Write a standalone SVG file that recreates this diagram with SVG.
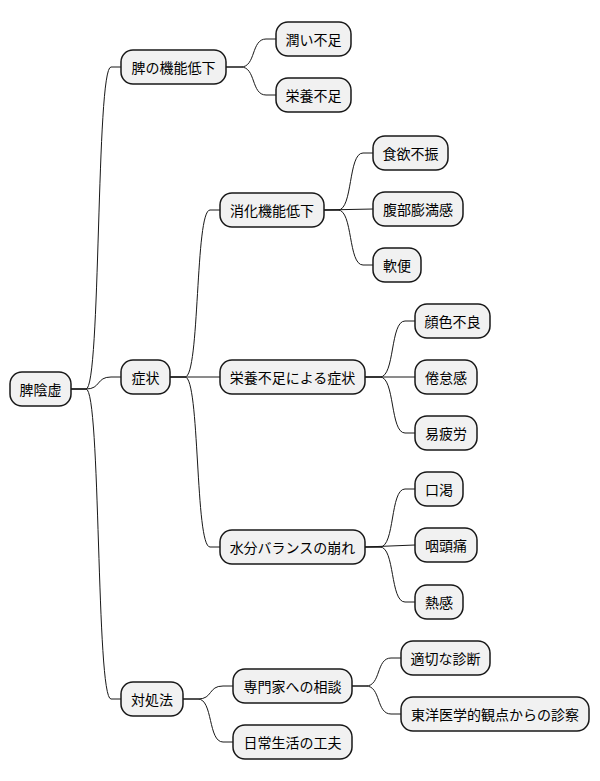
<svg xmlns="http://www.w3.org/2000/svg" width="600" height="781" viewBox="0 0 600 781">
<style>
.n rect{fill:#F1F1F1;stroke:#181818;stroke-width:1.5}
.n text{font-family:"Noto Sans CJK JP","Noto Sans CJK SC",sans-serif;font-size:14px;fill:#000;text-anchor:middle;dominant-baseline:central}
#c path{fill:none;stroke:#181818;stroke-width:1}
</style>
<rect width="600" height="781" fill="#fff"/>
<g id="c">
<path d="M71,389 L86,389 C101,389 96,67 111,67 L121,67"/>
<path d="M71,389 L86,389 C101,389 96,377 111,377 L121,377"/>
<path d="M71,389 L86,389 C101,389 96,699 111,699 L121,699"/>
<path d="M226,67 L241,67 C256,67 251,39 266,39 L276,39"/>
<path d="M226,67 L241,67 C256,67 251,95 266,95 L276,95"/>
<path d="M170,377 L185,377 C200,377 195,210 210,210 L220,210"/>
<path d="M170,377 L220,377"/>
<path d="M170,377 L185,377 C200,377 195,547 210,547 L220,547"/>
<path d="M324,210 L338,210 C353,210 348,153 363,153 L373,153"/>
<path d="M324,210 L373,209"/>
<path d="M324,210 L338,210 C353,210 348,265 363,265 L373,265"/>
<path d="M365,377 L380,377 C395,377 390,321 405,321 L415,321"/>
<path d="M365,377 L415,377"/>
<path d="M365,377 L380,377 C395,377 390,433 405,433 L415,433"/>
<path d="M365,547 L380,547 C395,547 390,489 405,489 L415,489"/>
<path d="M365,547 L415,545"/>
<path d="M365,547 L380,547 C395,547 390,602 405,602 L415,602"/>
<path d="M183,699 L198,699 C213,699 208,686 223,686 L233,686"/>
<path d="M183,699 L198,699 C213,699 208,742 223,742 L233,742"/>
<path d="M352,686 L366,686 C381,686 376,658 391,658 L401,658"/>
<path d="M352,686 L366,686 C381,686 376,714 391,714 L401,714"/>
</g>
<g id="n1" class="n"><rect x="10" y="372" width="61" height="34" rx="12"/><text x="40.5" y="389">脾陰虚</text></g>
<g id="n2" class="n"><rect x="121" y="50" width="105" height="34" rx="12"/><text x="173.5" y="67">脾の機能低下</text></g>
<g id="n3" class="n"><rect x="276" y="22" width="75" height="34" rx="12"/><text x="313.5" y="39">潤い不足</text></g>
<g id="n4" class="n"><rect x="276" y="78" width="75" height="34" rx="12"/><text x="313.5" y="95">栄養不足</text></g>
<g id="n5" class="n"><rect x="121" y="360" width="49" height="34" rx="12"/><text x="145.5" y="377">症状</text></g>
<g id="n6" class="n"><rect x="220" y="193" width="104" height="34" rx="12"/><text x="272" y="210">消化機能低下</text></g>
<g id="n7" class="n"><rect x="373" y="136" width="75" height="34" rx="12"/><text x="410.5" y="153">食欲不振</text></g>
<g id="n8" class="n"><rect x="373" y="192" width="90" height="34" rx="12"/><text x="418" y="209">腹部膨満感</text></g>
<g id="n9" class="n"><rect x="373" y="248" width="48" height="34" rx="12"/><text x="397" y="265">軟便</text></g>
<g id="n10" class="n"><rect x="220" y="360" width="145" height="34" rx="12"/><text x="292.5" y="377">栄養不足による症状</text></g>
<g id="n11" class="n"><rect x="415" y="304" width="75" height="34" rx="12"/><text x="452.5" y="321">顔色不良</text></g>
<g id="n12" class="n"><rect x="415" y="360" width="62" height="34" rx="12"/><text x="446" y="377">倦怠感</text></g>
<g id="n13" class="n"><rect x="415" y="416" width="62" height="34" rx="12"/><text x="446" y="433">易疲労</text></g>
<g id="n14" class="n"><rect x="220" y="530" width="145" height="34" rx="12"/><text x="292.5" y="547">水分バランスの崩れ</text></g>
<g id="n15" class="n"><rect x="415" y="472" width="48" height="34" rx="12"/><text x="439" y="489">口渇</text></g>
<g id="n16" class="n"><rect x="415" y="528" width="62" height="34" rx="12"/><text x="446" y="545">咽頭痛</text></g>
<g id="n17" class="n"><rect x="415" y="585" width="48" height="34" rx="12"/><text x="439" y="602">熱感</text></g>
<g id="n18" class="n"><rect x="121" y="682" width="62" height="34" rx="12"/><text x="152" y="699">対処法</text></g>
<g id="n19" class="n"><rect x="233" y="669" width="119" height="34" rx="12"/><text x="292.5" y="686">専門家への相談</text></g>
<g id="n20" class="n"><rect x="401" y="641" width="89" height="34" rx="12"/><text x="445.5" y="658">適切な診断</text></g>
<g id="n21" class="n"><rect x="401" y="697" width="188" height="34" rx="12"/><text x="495" y="714">東洋医学的観点からの診察</text></g>
<g id="n22" class="n"><rect x="233" y="725" width="119" height="34" rx="12"/><text x="292.5" y="742">日常生活の工夫</text></g>
</svg>
